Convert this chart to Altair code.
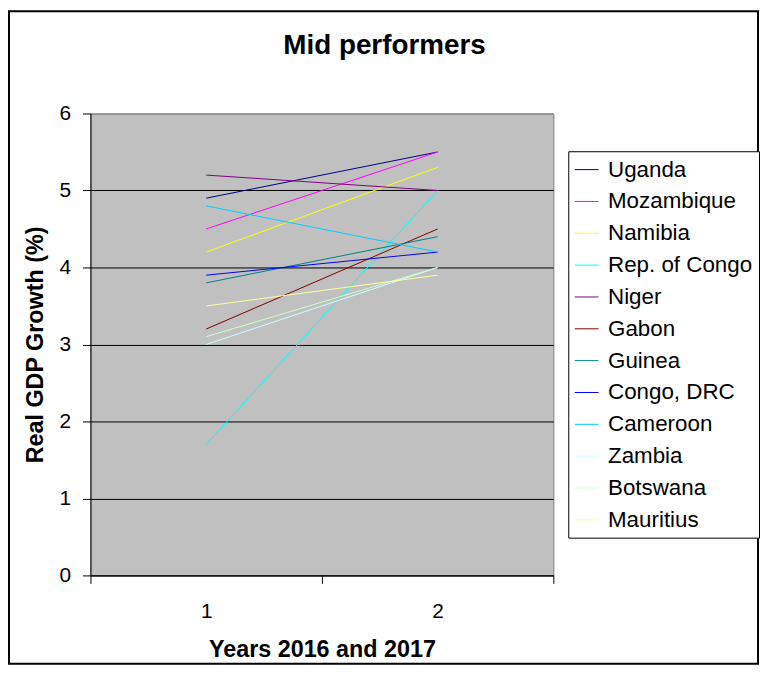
import altair as alt
import pandas as pd

countries = ["Uganda", "Mozambique", "Namibia", "Rep. of Congo", "Niger", "Gabon",
             "Guinea", "Congo, DRC", "Cameroon", "Zambia", "Botswana", "Mauritius"]
growth_2016 = [4.9, 4.5, 4.2, 1.7, 5.2, 3.2, 3.8, 3.9, 4.8, 3.0, 3.1, 3.5]
growth_2017 = [5.5, 5.5, 5.3, 5.0, 5.0, 4.5, 4.4, 4.2, 4.2, 4.0, 4.0, 3.9]
year_index = [1, 2]
colors = ["#000080", "#FF00FF", "#FFFF00", "#00FFFF", "#800080", "#800000",
          "#008080", "#0000FF", "#00CCFF", "#CCFFFF", "#CCFFCC", "#FFFF99"]

rows = []
for c, a, b in zip(countries, growth_2016, growth_2017):
    rows.append({"country": c, "year": year_index[0], "growth": a})
    rows.append({"country": c, "year": year_index[1], "growth": b})
df = pd.DataFrame(rows)

FONT = "Liberation Sans"
W, H = 466, 465
PAD = {"left": 83, "top": 104, "right": 208, "bottom": 91}

lines = alt.Chart(df).mark_line(strokeWidth=1).encode(
    x=alt.X(
        "year:Q",
        scale=alt.Scale(domain=[0.5, 2.5], nice=False, zero=False),
        axis=alt.Axis(
            values=[0.5, 1, 1.5, 2, 2.5],
            labelExpr="datum.value % 1 == 0 ? format(datum.value, 'd') : ''",
            tickOpacity={"condition": {"test": "datum.value % 1 == 0", "value": 0}, "value": 1},
            grid=False,
            title="Years 2016 and 2017",
            tickSize=8, tickColor="black", domainColor="black",
            labelFont=FONT, labelFontSize=21, labelColor="black", labelPadding=17,
            titleFont=FONT, titleFontSize=23.5, titleFontWeight="bold", titleColor="black",
            titlePadding=17,
        ),
    ),
    y=alt.Y(
        "growth:Q",
        scale=alt.Scale(domain=[0, 6], nice=False),
        axis=alt.Axis(
            values=[0, 1, 2, 3, 4, 5, 6],
            grid=True,
            gridColor={"condition": {"test": "datum.value == 6", "value": "#808080"}, "value": "black"},
            gridOpacity=1,
            title="Real GDP Growth (%)",
            tickSize=8, tickColor="black", domainColor="black",
            labelFont=FONT, labelFontSize=21, labelColor="black", labelPadding=12,
            titleFont=FONT, titleFontSize=23.5, titleFontWeight="bold", titleColor="black",
            titlePadding=12,
        ),
    ),
    color=alt.Color(
        "country:N",
        scale=alt.Scale(domain=countries, range=colors),
        legend=alt.Legend(
            title=None, orient="none", legendX=481, legendY=38,
            symbolType="stroke", symbolSize=576, symbolStrokeWidth=1,
            labelFont=FONT, labelFontSize=22.5, labelColor="black", labelLimit=400,
            labelOffset=9, rowPadding=8.05, padding=6,
            strokeColor="black", fillColor="white", cornerRadius=0,
        ),
    ),
)

border = alt.Chart(pd.DataFrame({"k": [0]})).mark_rect(
    fill=None, stroke="black", strokeWidth=2
).encode(
    x=alt.value(-82), x2=alt.value(W + PAD["right"] - 2),
    y=alt.value(-103), y2=alt.value(H + PAD["bottom"] - 2),
)

chart = alt.layer(lines, border).properties(
    width=W, height=H,
    padding=PAD,
    autosize=alt.AutoSizeParams(type="none"),
    background="white",
    title=alt.Title("Mid performers", font=FONT, fontSize=28, fontWeight="bold",
                    color="black", anchor="middle", frame="group", dx=63, offset=0, dy=50),
).configure_view(fill="#C0C0C0", stroke="#808080", strokeWidth=1)

chart.save("out.html", embed_options={"renderer": "svg", "actions": False})
